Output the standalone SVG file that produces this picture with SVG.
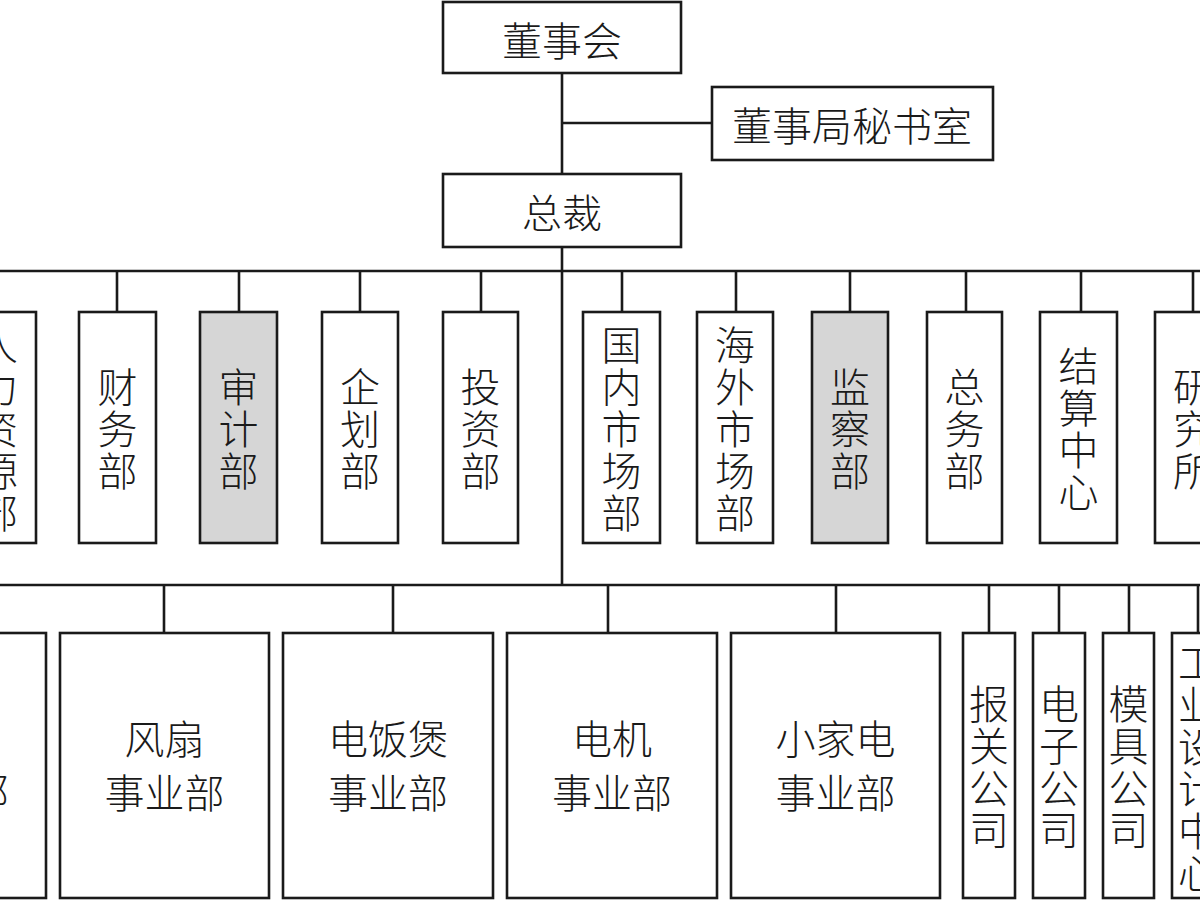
<svg xmlns="http://www.w3.org/2000/svg" width="1200" height="900" viewBox="0 0 1200 900">
<style>
.box{fill:#fff;stroke:#1a1a1a;stroke-width:2.6}
.gray{fill:#d6d6d6}
.ln{stroke:#1a1a1a;stroke-width:2.6;fill:none}
text{font-family:"Noto Sans CJK SC","Noto Sans",sans-serif;font-size:40px;fill:#1a1a1a;text-anchor:middle;dominant-baseline:central;font-weight:300}
</style>
<rect width="1200" height="900" fill="#fff"/>
<g id="connectors">
<path class="ln" d="M562 73V585M562 123H712"/>
<path class="ln" d="M0 271H1200"/>
<path class="ln" d="M117 271V312M239 271V312M360 271V312M481 271V312M622 271V312M736 271V312M850 271V312M966 271V312M1081 271V312M1193 271V312"/>
<path class="ln" d="M0 585H1200"/>
<path class="ln" d="M164 585V633M393 585V633M608 585V633M836 585V633M989 585V633M1059 585V633M1129 585V633M1198 585V633"/>
</g>
<g id="n-board"><rect class="box" x="443" y="2" width="238" height="71"/><text x="562" y="39">董事会</text></g>
<g id="n-secretary"><rect class="box" x="712" y="87" width="281" height="73"/><text x="852" y="124">董事局秘书室</text></g>
<g id="n-president"><rect class="box" x="443" y="174" width="238" height="73"/><text x="562" y="211">总裁</text></g>

<g id="n-hr"><rect class="box" x="-40" y="312" width="76" height="231"/><text><tspan x="-2" y="343">人</tspan><tspan x="-2" y="385">力</tspan><tspan x="-2" y="427">资</tspan><tspan x="-2" y="469">源</tspan><tspan x="-2" y="511">部</tspan></text></g>
<g id="n-finance"><rect class="box" x="79" y="312" width="77" height="231"/><text><tspan x="117.5" y="385">财</tspan><tspan x="117.5" y="427">务</tspan><tspan x="117.5" y="469">部</tspan></text></g>
<g id="n-audit"><rect class="box gray" x="200" y="312" width="77" height="231"/><text><tspan x="238.5" y="385">审</tspan><tspan x="238.5" y="427">计</tspan><tspan x="238.5" y="469">部</tspan></text></g>
<g id="n-planning"><rect class="box" x="322" y="312" width="76" height="231"/><text><tspan x="360" y="385">企</tspan><tspan x="360" y="427">划</tspan><tspan x="360" y="469">部</tspan></text></g>
<g id="n-invest"><rect class="box" x="443" y="312" width="75" height="231"/><text><tspan x="480.5" y="385">投</tspan><tspan x="480.5" y="427">资</tspan><tspan x="480.5" y="469">部</tspan></text></g>
<g id="n-domestic"><rect class="box" x="583" y="312" width="77" height="231"/><text><tspan x="621.5" y="343">国</tspan><tspan x="621.5" y="385">内</tspan><tspan x="621.5" y="427">市</tspan><tspan x="621.5" y="469">场</tspan><tspan x="621.5" y="511">部</tspan></text></g>
<g id="n-overseas"><rect class="box" x="697" y="312" width="76" height="231"/><text><tspan x="735" y="343">海</tspan><tspan x="735" y="385">外</tspan><tspan x="735" y="427">市</tspan><tspan x="735" y="469">场</tspan><tspan x="735" y="511">部</tspan></text></g>
<g id="n-supervision"><rect class="box gray" x="812" y="312" width="76" height="231"/><text><tspan x="850" y="385">监</tspan><tspan x="850" y="427">察</tspan><tspan x="850" y="469">部</tspan></text></g>
<g id="n-general"><rect class="box" x="927" y="312" width="75" height="231"/><text><tspan x="964.5" y="385">总</tspan><tspan x="964.5" y="427">务</tspan><tspan x="964.5" y="469">部</tspan></text></g>
<g id="n-settlement"><rect class="box" x="1040" y="312" width="77" height="231"/><text><tspan x="1078.5" y="364">结</tspan><tspan x="1078.5" y="406">算</tspan><tspan x="1078.5" y="448">中</tspan><tspan x="1078.5" y="490">心</tspan></text></g>
<g id="n-research"><rect class="box" x="1155" y="312" width="76" height="231"/><text><tspan x="1193" y="385">研</tspan><tspan x="1193" y="427">究</tspan><tspan x="1193" y="469">所</tspan></text></g>

<g id="n-div0"><rect class="box" x="-164" y="633" width="210" height="265"/><text x="9" y="790" style="text-anchor:end">事业部</text></g>
<g id="n-fan"><rect class="box" x="60" y="633" width="209" height="265"/><text x="164.5" y="737">风扇</text><text x="164.5" y="791">事业部</text></g>
<g id="n-cooker"><rect class="box" x="283" y="633" width="210" height="265"/><text x="388" y="737">电饭煲</text><text x="388" y="791">事业部</text></g>
<g id="n-motor"><rect class="box" x="507" y="633" width="210" height="265"/><text x="612" y="737">电机</text><text x="612" y="791">事业部</text></g>
<g id="n-small"><rect class="box" x="731" y="633" width="209" height="265"/><text x="835.5" y="737">小家电</text><text x="835.5" y="791">事业部</text></g>
<g id="n-customs"><rect class="box" x="963" y="633" width="52" height="265"/><text><tspan x="989" y="702">报</tspan><tspan x="989" y="744">关</tspan><tspan x="989" y="786">公</tspan><tspan x="989" y="828">司</tspan></text></g>
<g id="n-electronics"><rect class="box" x="1033" y="633" width="52" height="265"/><text><tspan x="1059" y="702">电</tspan><tspan x="1059" y="744">子</tspan><tspan x="1059" y="786">公</tspan><tspan x="1059" y="828">司</tspan></text></g>
<g id="n-mould"><rect class="box" x="1103" y="633" width="51" height="265"/><text><tspan x="1128.5" y="702">模</tspan><tspan x="1128.5" y="744">具</tspan><tspan x="1128.5" y="786">公</tspan><tspan x="1128.5" y="828">司</tspan></text></g>
<g id="n-design"><rect class="box" x="1172" y="633" width="52" height="265"/><text><tspan x="1198" y="661">工</tspan><tspan x="1198" y="703">业</tspan><tspan x="1198" y="745">设</tspan><tspan x="1198" y="787">计</tspan><tspan x="1198" y="829">中</tspan><tspan x="1198" y="871">心</tspan></text></g>
</svg>
